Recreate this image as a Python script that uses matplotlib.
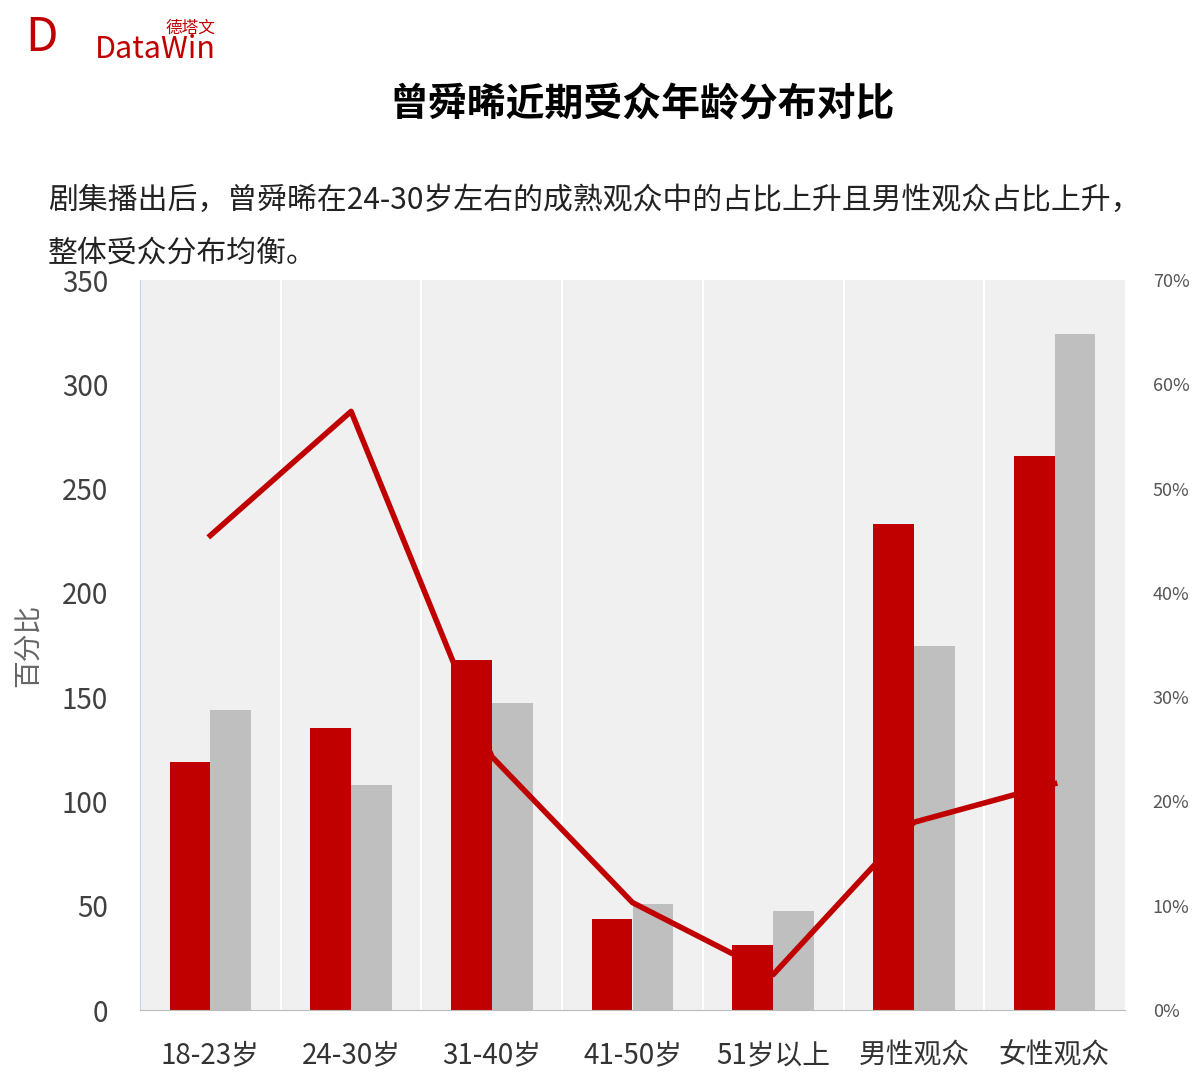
import matplotlib
matplotlib.use("Agg")
import matplotlib.pyplot as plt
import numpy as np

plt.rcParams['font.family'] = ['Noto Sans CJK SC', 'DejaVu Sans']

categories = ["18-23岁", "24-30岁", "31-40岁", "41-50岁", "51岁以上", "男性观众", "女性观众"]
red_vals = [119, 135, 168, 43.5, 31, 233, 265.5]
gray_vals = [144, 108, 147, 51, 47.5, 174.5, 324]
line_pct = [45.5, 57.4, 24.3, 10.3, 3.4, 18.0, 21.7]
left_ticks = [0, 50, 100, 150, 200, 250, 300, 350]
right_ticks = [0, 10, 20, 30, 40, 50, 60, 70]

fig = plt.figure(figsize=(12.02, 10.80), dpi=100)
ax = fig.add_axes([140/1202, 1-1010/1080, 985/1202, 730/1080])
ax.set_facecolor('#f0f0f0')
x = np.arange(len(categories))
w = 0.29
ax.bar(x - w/2, red_vals, w, color='#c00000', zorder=2)
ax.bar(x + w/2, gray_vals, w, color='#bfbfbf', zorder=2)
ax.set_xlim(-0.5, len(categories) - 0.5)
ax.set_ylim(0, 350)
ax.set_yticks(left_ticks)
ax.tick_params(axis='y', labelsize=20, colors='#404040', length=0, pad=23)
ax.set_xticks(x)
ax.set_xticklabels(categories, fontsize=20, color='#333333')
ax.tick_params(axis='x', length=0, pad=22)
for b in np.arange(0.5, len(categories) - 0.5, 1):
    ax.axvline(b, color='white', lw=1.5, zorder=1)
for s in ['top', 'right']:
    ax.spines[s].set_visible(False)
ax.spines['left'].set_color('#c8d4e8')
ax.spines['bottom'].set_color('#bbbbbb')
fig.text(28/1202, 1-645/1080, "百分比", fontsize=20, color='#666666', rotation=90, ha='center', va='center')

ax2 = ax.twinx()
ax2.plot(x, line_pct, color='#c00000', lw=4, zorder=3)
ax2.set_ylim(0, 70)
ax2.set_yticks(right_ticks)
ax2.set_yticklabels([f"{t}%" for t in right_ticks])
ax2.tick_params(axis='y', labelsize=13, colors='#555555', length=0, pad=20)
for s in ['top', 'left', 'right', 'bottom']:
    ax2.spines[s].set_visible(False)

fig.text(642/1202, 1-105/1080, "曾舜晞近期受众年龄分布对比", fontsize=28, fontweight='bold', ha='center', va='center')
fig.text(48/1202, 1-200/1080, "剧集播出后，曾舜晞在24-30岁左右的成熟观众中的占比上升且男性观众占比上升，", fontsize=21.5, va='center', color='#222222')
fig.text(48/1202, 1-253/1080, "整体受众分布均衡。", fontsize=21.5, va='center', color='#222222')
fig.text(95/1202, 1-50/1080, "DataWin", fontsize=22, color='#c00000', va='center')
fig.text(165/1202, 1-28/1080, "德塔文", fontsize=12, color='#c00000', va='center')
fig.text(25/1202, 1-38/1080, "D", fontsize=34, color='#c00000', va='center', fontstyle='italic')
fig.savefig("out.png", dpi=100)
